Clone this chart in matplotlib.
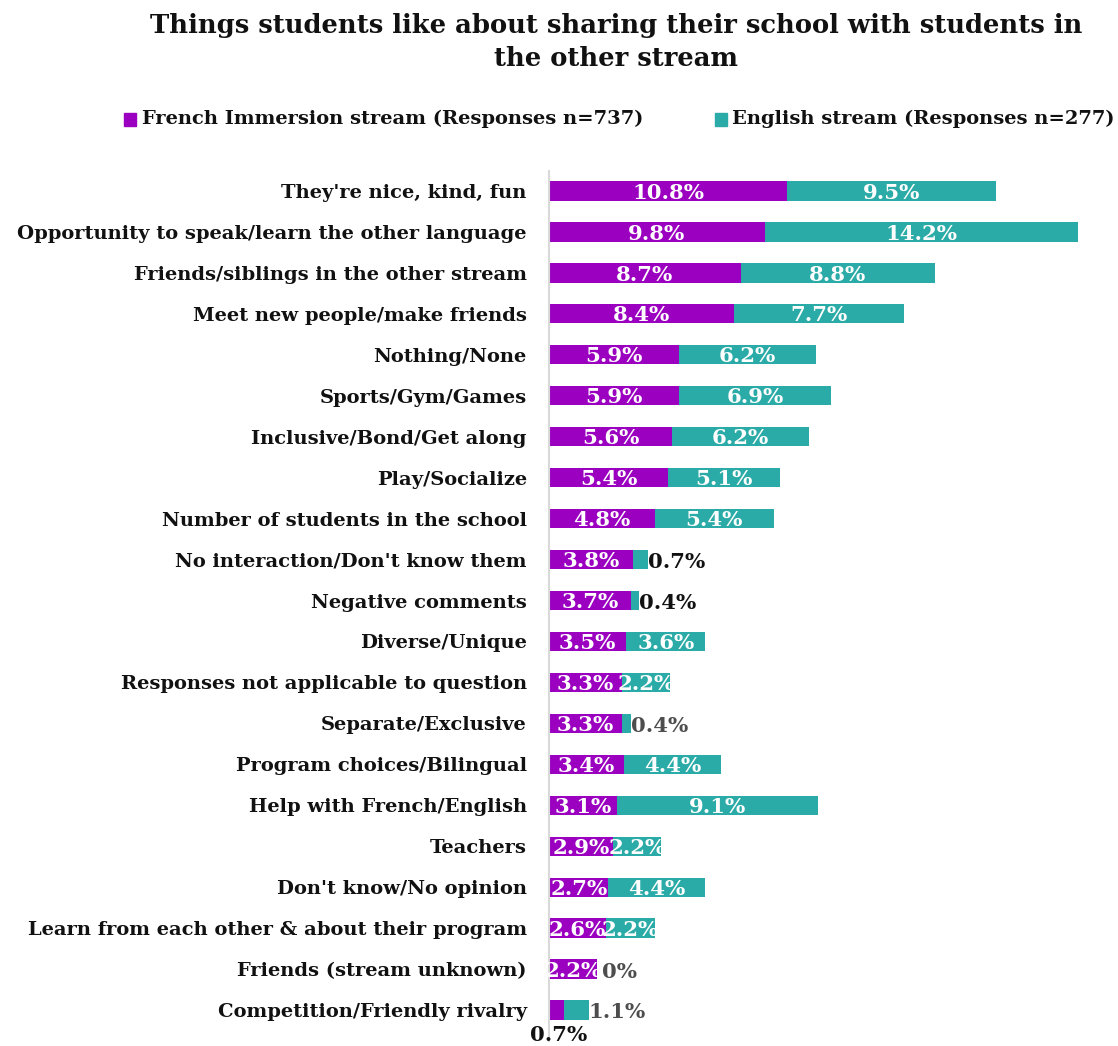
import matplotlib
matplotlib.use("Agg")
import matplotlib.pyplot as plt

categories = [
    "They're nice, kind, fun",
    "Opportunity to speak/learn the other language",
    "Friends/siblings in the other stream",
    "Meet new people/make friends",
    "Nothing/None",
    "Sports/Gym/Games",
    "Inclusive/Bond/Get along",
    "Play/Socialize",
    "Number of students in the school",
    "No interaction/Don't know them",
    "Negative comments",
    "Diverse/Unique",
    "Responses not applicable to question",
    "Separate/Exclusive",
    "Program choices/Bilingual",
    "Help with French/English",
    "Teachers",
    "Don't know/No opinion",
    "Learn from each other & about their program",
    "Friends (stream unknown)",
    "Competition/Friendly rivalry",
]
french = [10.8, 9.8, 8.7, 8.4, 5.9, 5.9, 5.6, 5.4, 4.8, 3.8, 3.7, 3.5, 3.3, 3.3, 3.4, 3.1, 2.9, 2.7, 2.6, 2.2, 0.7]
english = [9.5, 14.2, 8.8, 7.7, 6.2, 6.9, 6.2, 5.1, 5.4, 0.7, 0.4, 3.6, 2.2, 0.4, 4.4, 9.1, 2.2, 4.4, 2.2, 0.0, 1.1]
series_names = ["French Immersion stream (Responses n=737)", "English stream (Responses n=277)"]

PURPLE = "#9B00C0"
TEAL = "#2BABA7"
FONT = "DejaVu Serif"

W, H = 1118, 1046
fig = plt.figure(figsize=(W / 100, H / 100), dpi=100)
ax_left, ax_right = 549, 1080
ax_top, ax_bot = 170.5, 1030.5
ax = fig.add_axes([ax_left / W, 1 - ax_bot / H, (ax_right - ax_left) / W, (ax_bot - ax_top) / H])

ys = list(range(len(categories)))
bh = 0.47
ax.barh(ys, french, height=bh, color=PURPLE, edgecolor="none")
ax.barh(ys, english, left=french, height=bh, color=TEAL, edgecolor="none")

ax.set_xlim(0, 24.1)
ax.set_ylim(len(categories) - 0.5, -0.5)
ax.set_yticks(ys)
ax.set_yticklabels(categories, fontfamily=FONT, fontweight="bold", fontsize=14.0, color="#111111")
ax.tick_params(axis="y", length=0, pad=16)
ax.set_xticks([])
for s in ["top", "right", "bottom"]:
    ax.spines[s].set_visible(False)
ax.spines["left"].set_color("#d9d9d9")
ax.spines["left"].set_linewidth(1.5)
ax.spines["left"].set_bounds(len(categories) - 0.5 + 0.25, -0.5)

lab_kw = dict(fontfamily=FONT, fontweight="bold", fontsize=15.3, va="center")
black_out = {"No interaction/Don't know them", "Negative comments"}
for i, (c, f, e) in enumerate(zip(categories, french, english)):
    # French label
    if c == "Competition/Friendly rivalry":
        ax.text(f / 2 + 0.1, i + 0.6, f"{f:g}%", ha="center", color="#111111", clip_on=False, **lab_kw)
    else:
        ax.text(f / 2, i + 0.04, f"{f:g}%", ha="center", color="white", **lab_kw)
    # English label
    if e < 1.5:
        col = "#111111" if c in black_out else "#4d4d4d"
        off = 0.2 if e == 0 else 0.0
        ax.text(f + e + off, i + 0.06, f"{e:g}%", ha="left", color=col, **lab_kw)
    else:
        ax.text(f + e / 2, i + 0.04, f"{e:g}%", ha="center", color="white", **lab_kw)

fig.text(0.551, 1 - 42 / H, "Things students like about sharing their school with students in\nthe other stream",
         ha="center", va="center", fontfamily=FONT, fontweight="bold", fontsize=18.6,
         linespacing=1.4, color="#111111")

# legend
leg_y = 1 - 119 / H
fig.patches.append(plt.Rectangle((124 / W, leg_y - 6.5 / H), 12 / W, 13 / H, transform=fig.transFigure,
                                 color=PURPLE))
fig.text(142 / W, leg_y, series_names[0], ha="left", va="center", fontfamily=FONT, fontweight="bold",
         fontsize=14.0, color="#111111")
fig.patches.append(plt.Rectangle((715 / W, leg_y - 6.5 / H), 12 / W, 13 / H, transform=fig.transFigure,
                                 color=TEAL))
fig.text(732 / W, leg_y, series_names[1], ha="left", va="center", fontfamily=FONT, fontweight="bold",
         fontsize=14.0, color="#111111")

fig.savefig("out.png", dpi=100)
